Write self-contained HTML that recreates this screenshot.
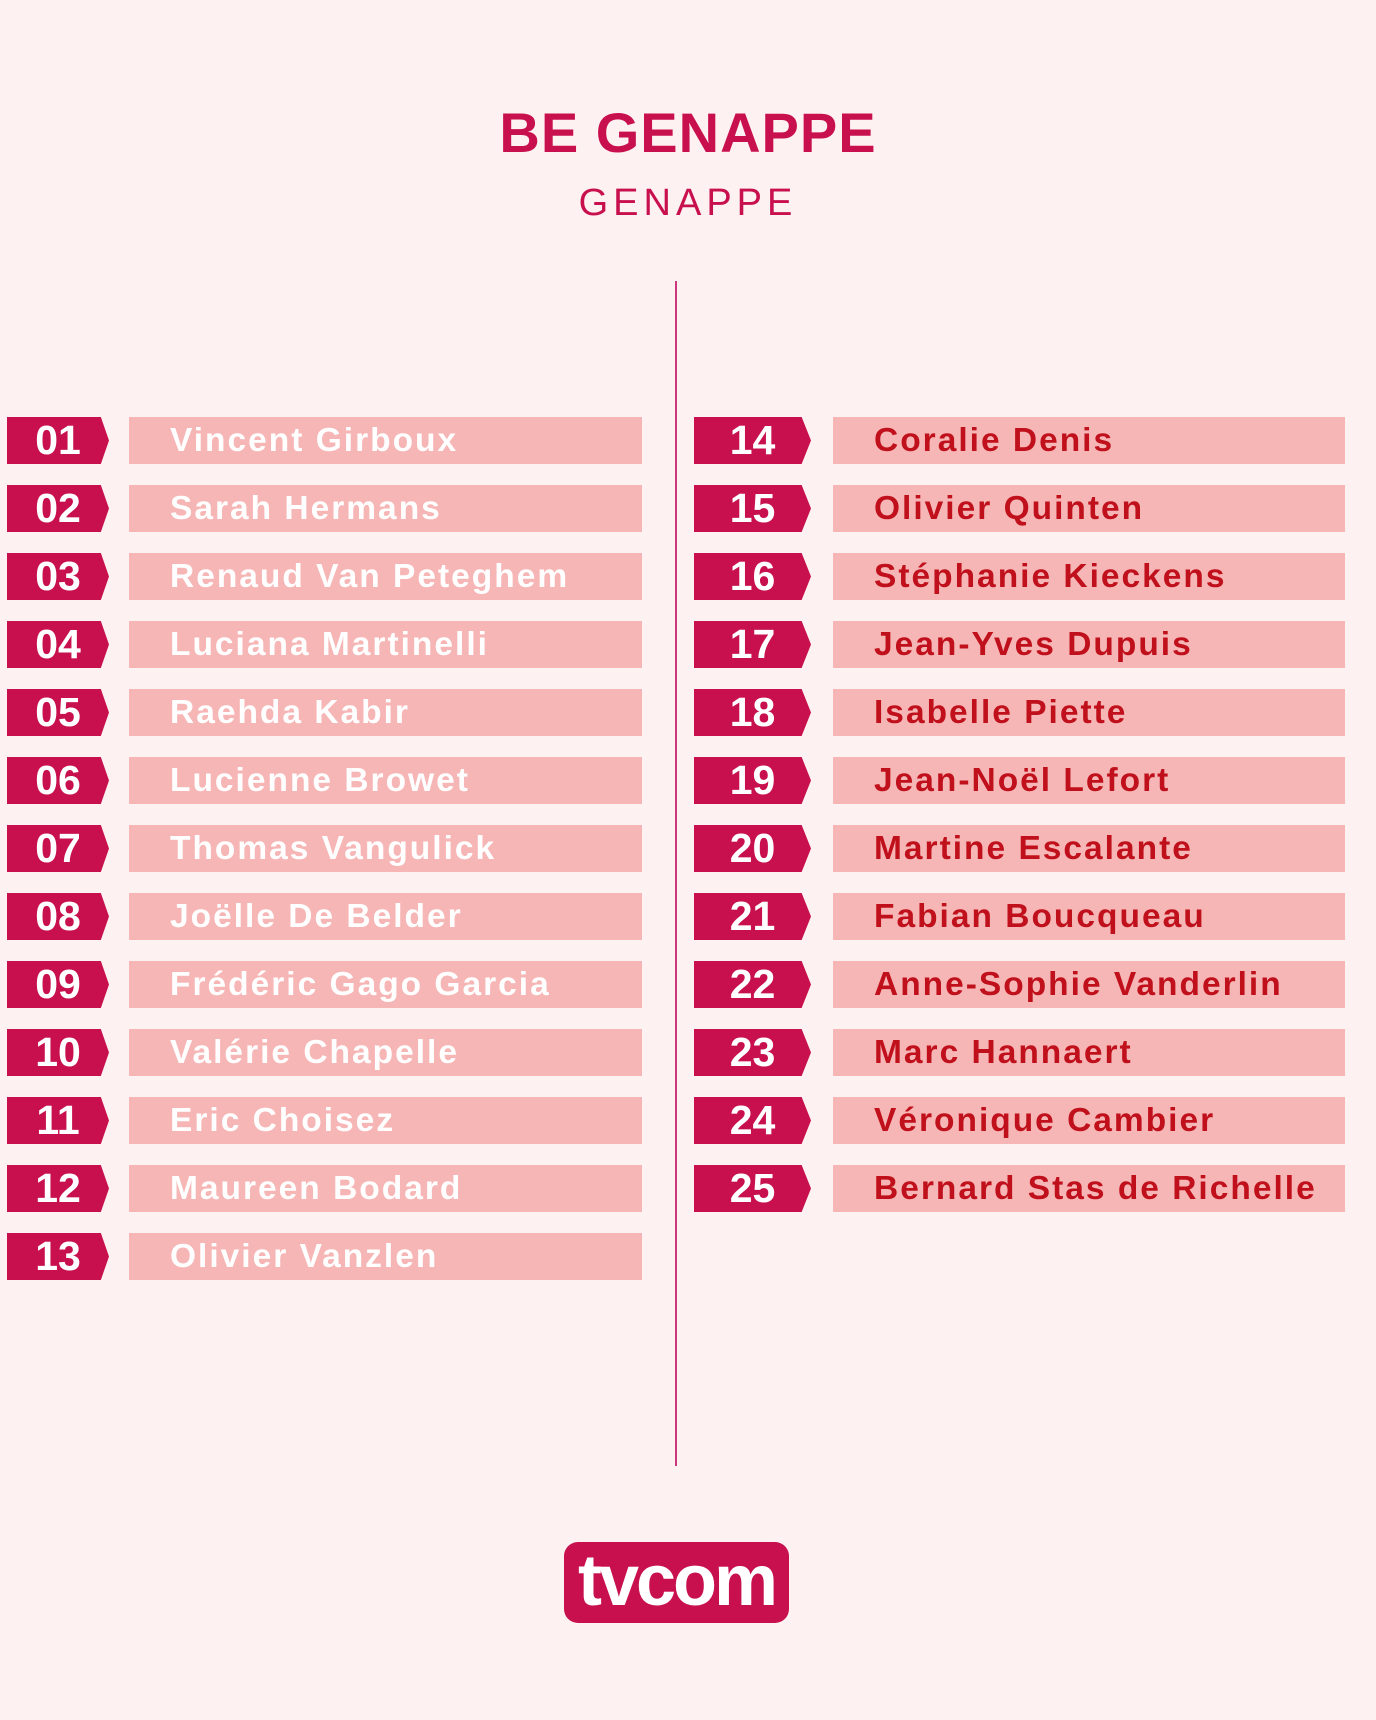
<!DOCTYPE html>
<html><head><style>
body{margin:0;width:1376px;height:1720px;background:#fdf1f1;position:relative;font-family:"Liberation Sans",sans-serif;overflow:hidden}
.t{position:absolute;left:0;width:1376px;text-align:center;color:#c8104f}
.badge{position:absolute;width:102px;height:47px;background:#c8104f;clip-path:polygon(0 0,92% 0,100% 50%,92% 100%,0 100%);color:#fff;font-size:41px;line-height:47px;font-weight:bold;text-align:center;box-sizing:border-box;padding-right:0}
.bar{position:absolute;height:47px;background:#f7b6b6;font-weight:bold;font-size:33.5px;line-height:47px;box-sizing:border-box;letter-spacing:2px;white-space:nowrap}
.l .bar{color:#fff;padding-left:41px}
.r .bar{color:#c0101c;padding-left:41px}
</style></head><body>
<div class="t" style="top:100px;font-size:56px;font-weight:bold;letter-spacing:1px">BE GENAPPE</div>
<div class="t" style="top:182px;font-size:38px;letter-spacing:5px">GENAPPE</div>
<div style="position:absolute;left:675px;top:281px;width:2px;height:1185px;background:#c8387a"></div>
<div id="c"></div>
<div style="position:absolute;left:564px;top:1542px;width:225px;height:81px;background:#c8104f;border-radius:14px;color:#fff;font-weight:bold;font-size:72px;line-height:78px;text-align:center;letter-spacing:-3px">tvcom</div>
<script>
var L=["Vincent Girboux","Sarah Hermans","Renaud Van Peteghem","Luciana Martinelli","Raehda Kabir","Lucienne Browet","Thomas Vangulick","Joëlle De Belder","Frédéric Gago Garcia","Valérie Chapelle","Eric Choisez","Maureen Bodard","Olivier Vanzlen"];
var R=["Coralie Denis","Olivier Quinten","Stéphanie Kieckens","Jean-Yves Dupuis","Isabelle Piette","Jean-Noël Lefort","Martine Escalante","Fabian Boucqueau","Anne-Sophie Vanderlin","Marc Hannaert","Véronique Cambier","Bernard Stas de Richelle"];
var h="";
L.forEach(function(n,i){var y=417+i*68;h+='<div class="l"><div class="badge" style="left:7px;top:'+y+'px">'+String(i+1).padStart(2,"0")+'</div><div class="bar" style="left:129px;width:513px;top:'+y+'px">'+n+'</div></div>';});
R.forEach(function(n,i){var y=417+i*68;h+='<div class="r"><div class="badge" style="left:694px;width:117px;top:'+y+'px">'+(i+14)+'</div><div class="bar" style="left:833px;width:512px;top:'+y+'px">'+n+'</div></div>';});
document.getElementById("c").innerHTML=h;
</script>
</body></html>
